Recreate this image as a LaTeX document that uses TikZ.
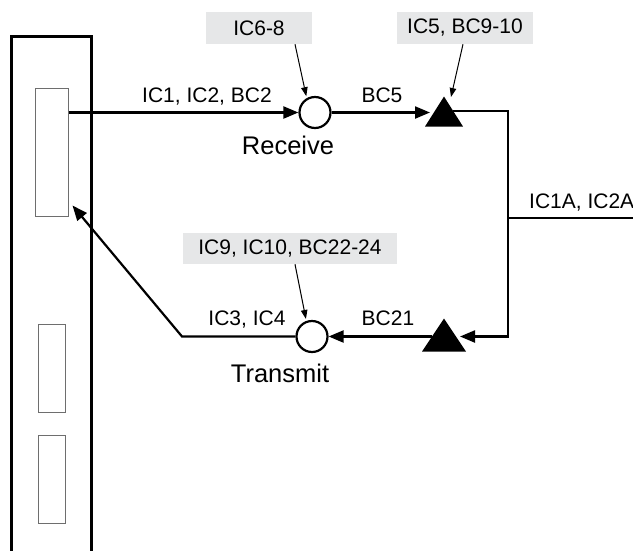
\documentclass[tikz,border=0pt]{standalone}
\usepackage{fontspec}
\setmainfont{Liberation Sans}
\usetikzlibrary{
  positioning,
  arrows.meta,
  calc,
  shapes.geometric
}
\definecolor{notegray}{RGB}{230,231,232}
\definecolor{slotgray}{RGB}{110,110,110}

\begin{document}
\begin{tikzpicture}[
  x=1pt, y=-1pt,
  >={Triangle[length=15pt,width=12pt]},
  font=\fontsize{21}{25}\selectfont,
  every node/.style={inner sep=1pt},
  link/.style={line width=2.2pt},
  pointer/.style={line width=1pt, -{Triangle[length=9pt,width=6.5pt]}},
  note/.style={fill=notegray, minimum height=32pt, inner sep=0pt},
  slot/.style={draw=slotgray, line width=1pt, inner sep=0pt},
  port/.style={circle, draw, line width=2.2pt, minimum size=31pt, inner sep=0pt},
  amp/.style={isosceles triangle, isosceles triangle stretches,
    shape border rotate=90, fill=black, inner sep=0pt, anchor=apex},
  caption/.style={font=\fontsize{25.5}{30}\selectfont}
]
  \useasboundingbox (0,0) rectangle (633,550);
  % rack with its slots
  \draw[line width=3pt] (11,552) -- (11,36) -- (91,36) -- (91,552);
  \node[slot, minimum width=33pt, minimum height=128pt] (rx slot) at (51.5,152) {};
  \foreach \y/\n in {368/a, 479/b}
    \node[slot, minimum width=27pt, minimum height=88pt] (slot \n) at (51.5,\y) {};

  % receive and transmit points
  \node[port] (rx) at (315,112.5) {};
  \node[port] (tx) at (312,336.5) {};
  \node[amp, minimum width=38pt, minimum height=30pt] (amp rx) at (444,96) {};
  \node[amp, minimum width=44pt, minimum height=33pt] (amp tx) at (444,318) {};
  \coordinate (bus) at (508,218);
  \coordinate (ext) at (633,218);
  \coordinate (bend) at (182,336.5);

  % notes
  \node[note, minimum width=106pt] (rx note) at (259,28) {IC6-8};
  \node[note, minimum width=136pt] (amp note) at (465,28) {IC5, BC9-10};
  \node[note, minimum width=214pt, minimum height=31pt] (tx note) at (290,248.5) {IC9, IC10, BC22-24};

  % signal path
  \draw[link, ->] (rx slot.east |- rx.west) -- (rx.west);
  \draw[link, ->] (rx.east) -- ($(rx.east -| amp rx.apex)+(-14,0)$);
  \draw[link, ->] ($(amp rx.apex)+(9,15)$) -| (bus) |- ($(amp tx.apex)+(16,18.5)$);
  \draw[link] (bus) -- (ext);
  \draw[link, ->] ($(amp tx.apex)+(-12,18.5)$) -- (tx.east);
  \draw[link, ->] (tx.west) -- (bend) -- ($(rx slot.south east)+(4,-11)$);

  \draw[pointer, shorten >=2pt] ($(rx note.south)+(36,0)$) -- (rx.120);
  \draw[pointer] ($(amp note.south)+(-2,0)$) -- ($(amp rx.apex)+(7,1)$);
  \draw[pointer, shorten >=2pt] ($(tx note.south)+(5,0)$) -- (tx.110);

  % labels
  \node[anchor=base] (rx in lbl) at (207,102) {IC1, IC2, BC2};
  \node[anchor=base] (rx out lbl) at (382,102) {BC5};
  \node[caption, anchor=base] (rx cap) at (288,154) {Receive};
  \node[anchor=base] (tx out lbl) at (247,325) {IC3, IC4};
  \node[anchor=base] (tx in lbl) at (388,325) {BC21};
  \node[caption, anchor=base] (tx cap) at (280,382) {Transmit};
  \node[anchor=base west] (bus lbl) at (528,208) {IC1A, IC2A};
\end{tikzpicture}
\end{document}
